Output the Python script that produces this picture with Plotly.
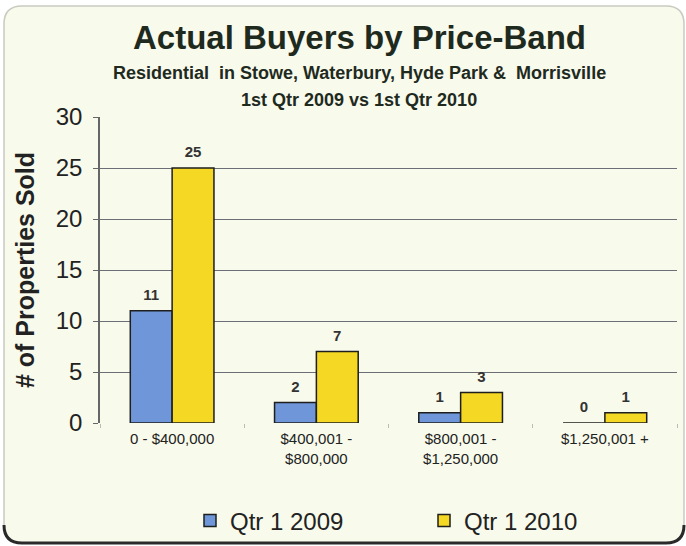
import plotly.graph_objects as go

# ---- data ----
categories = ["0 - $400,000", "$400,001 -<br>$800,000", "$800,001 -<br>$1,250,000", "$1,250,001 +"]
series_names = ["Qtr 1 2009", "Qtr 1 2010"]
q1_2009 = [11, 2, 1, 0]
q1_2010 = [25, 7, 3, 1]
y_ticks = [0, 5, 10, 15, 20, 25, 30]

title_main = "Actual Buyers by Price-Band"
title_sub1 = "Residential  in Stowe, Waterbury, Hyde Park &  Morrisville"
title_sub2 = "1st Qtr 2009 vs 1st Qtr 2010"
y_title = "# of Properties Sold"

# ---- layout geometry (pixels) ----
W, H = 686, 546
L, R, T, B = 100, 9, 117, 123
PW, PH = W - L - R, H - T - B

def xp(x):
    return (x - L) / PW

def yp(y):
    return (H - B - y) / PH

BLUE = "#6e96d8"
YELLOW = "#f4d823"
EDGE = "#1e1e1e"
TXT = "#222222"

BARGAP = 0.42
half = (1 - BARGAP) / 4
xs = list(range(len(categories)))

fig = go.Figure()
fig.add_trace(go.Bar(x=xs, y=q1_2009, name=series_names[0],
                     marker=dict(color=BLUE, line=dict(color=EDGE, width=1.5))))
fig.add_trace(go.Bar(x=xs, y=q1_2010, name=series_names[1],
                     marker=dict(color=YELLOW, line=dict(color=EDGE, width=1.5))))

label_pad = 1.4
fig.add_trace(go.Scatter(
    x=[i - half for i in xs] + [i + half for i in xs],
    y=[v + label_pad for v in q1_2009] + [v + label_pad for v in q1_2010],
    text=[f"<b>{v}</b>" for v in q1_2009] + [f"<b>{v}</b>" for v in q1_2010],
    mode="text", textposition="middle center",
    textfont=dict(family="Liberation Sans, Arial", size=15, color="#333333"),
    showlegend=False, hoverinfo="skip", cliponaxis=False))

# frame with rounded corners
x0, x1, y0, y1, r = 4, 684, 6, 543, 18
pts = lambda a, b: f"{xp(a):.5f},{yp(b):.5f}"
frame = (f"M {pts(x0 + r, y0)} L {pts(x1 - r, y0)} Q {pts(x1, y0)} {pts(x1, y0 + r)} "
         f"L {pts(x1, y1 - r)} Q {pts(x1, y1)} {pts(x1 - r, y1)} L {pts(x0 + r, y1)} "
         f"Q {pts(x0, y1)} {pts(x0, y1 - r)} L {pts(x0, y0 + r)} Q {pts(x0, y0)} {pts(x0 + r, y0)} Z")
bottom = (f"M {pts(x0, y1 - r)} Q {pts(x0, y1)} {pts(x0 + r, y1)} L {pts(x1 - r, y1)} "
          f"Q {pts(x1, y1)} {pts(x1, y1 - r)}")
shapes = [
    dict(type="path", xref="paper", yref="paper", path=frame,
         fillcolor="#f8faeb", line=dict(color="#c9cac2", width=1.5), layer="below"),
    dict(type="path", xref="paper", yref="paper", path=bottom,
         line=dict(color="#2a2a2a", width=3), layer="below"),
]

cx = xp(359)
annotations = [
    dict(text=f"<b>{title_main}</b>", x=cx, y=yp(37), xref="paper", yref="paper",
         showarrow=False, xanchor="center", yanchor="middle",
         font=dict(family="Liberation Sans, Arial", size=33, color="#1f2a1f")),
    dict(text=f"<b>{title_sub1}</b>", x=cx, y=yp(73), xref="paper", yref="paper",
         showarrow=False, xanchor="center", yanchor="middle",
         font=dict(family="Liberation Sans, Arial", size=18, color="#1f2a1f")),
    dict(text=f"<b>{title_sub2}</b>", x=cx, y=yp(100), xref="paper", yref="paper",
         showarrow=False, xanchor="center", yanchor="middle",
         font=dict(family="Liberation Sans, Arial", size=18, color="#1f2a1f")),
]

fig.update_layout(
    width=W, height=H,
    margin=dict(l=L, r=R, t=T, b=B, autoexpand=False),
    paper_bgcolor="white",
    plot_bgcolor="#b5bccf",
    barmode="group", bargap=BARGAP, bargroupgap=0,
    shapes=shapes, annotations=annotations,
    font=dict(family="Liberation Sans, Arial", color=TXT),
    legend=dict(orientation="h", x=xp(190), y=yp(521), xanchor="left", yanchor="middle",
                font=dict(size=24, color=TXT), bgcolor="rgba(0,0,0,0)",
                itemwidth=30, entrywidth=189, traceorder="normal"),
    xaxis=dict(range=[-0.5, len(categories) - 0.5], tickvals=xs, ticktext=categories,
               tickfont=dict(size=15, color=TXT), ticks="", showgrid=False, zeroline=False,
               showline=False, ticklabelstandoff=5,
               minor=dict(tick0=-0.5, dtick=1, ticks="outside", ticklen=4, tickcolor="#bbbbbb",
                          showgrid=False)),
    yaxis=dict(range=[0, 30], tickvals=y_ticks, tickfont=dict(size=24, color=TXT),
               showgrid=True, gridcolor="#6c6f78", gridwidth=1, zeroline=False,
               showline=True, linecolor="#666666", linewidth=1.5,
               ticks="outside", ticklen=5, tickcolor="#666666", ticklabelstandoff=6,
               title=dict(text=f"<b>{y_title}</b>", font=dict(size=25, color=TXT), standoff=14)),
)

fig.write_html("out.html")
